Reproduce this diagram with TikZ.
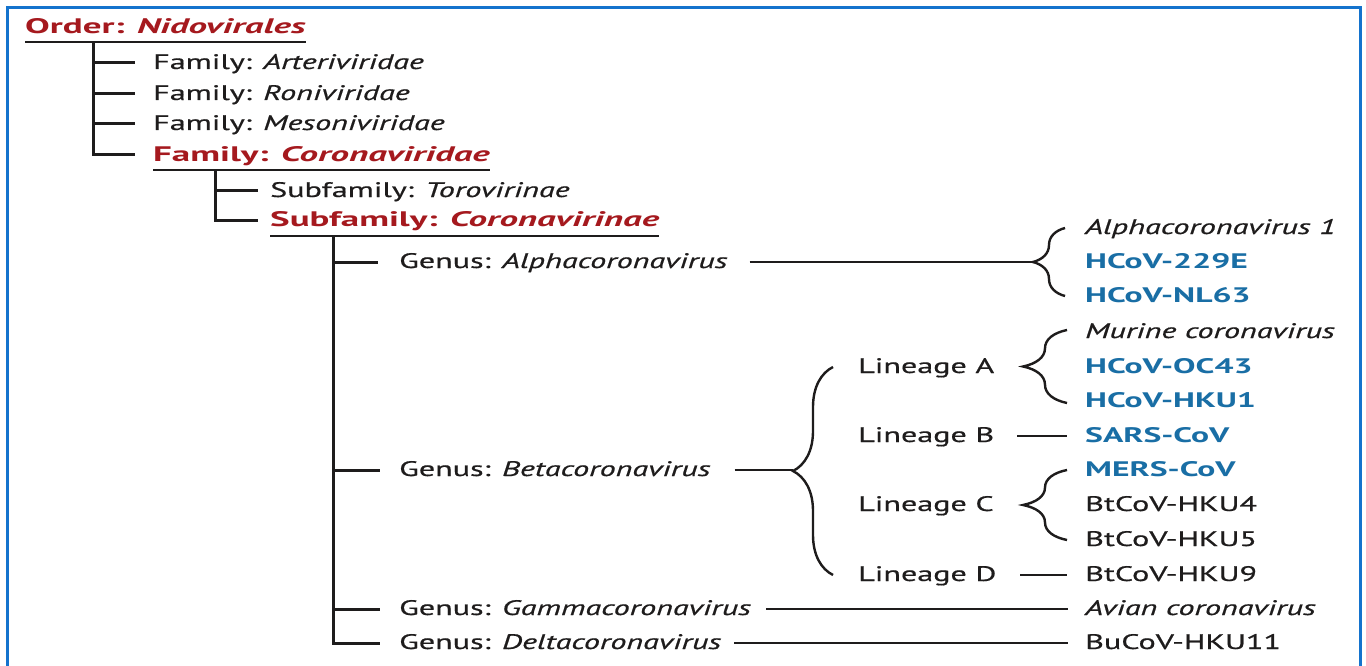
\documentclass[tikz,border=0pt]{standalone}
\usepackage{fontspec}
\setmainfont{PT Sans}
\newfontfamily\regf{PT Sans}[FakeStretch=1.53, FakeBold=0.6]
\newfontfamily\redf{PT Sans}[FakeStretch=1.76]
\newfontfamily\bluef{PT Sans}[FakeStretch=1.6]
\usetikzlibrary{decorations.pathreplacing}
\definecolor{ordred}{RGB}{165,25,30}
\definecolor{virblue}{RGB}{25,110,165}
\definecolor{framebl}{RGB}{20,115,205}
\definecolor{ink}{RGB}{30,28,28}
\begin{document}
\begin{tikzpicture}[x=1pt,y=-1pt,
  lbl/.style={anchor=west, inner sep=0pt, text=ink, font=\fontsize{21}{25}\selectfont\regf, text height=15pt, text depth=3pt},
  hl/.style={lbl, text=ordred, font=\fontsize{21}{25}\selectfont\redf\bfseries},
  vb/.style={lbl, text=virblue, font=\fontsize{21}{25}\selectfont\bluef\bfseries},
  tree/.style={draw=ink, line width=3pt},
  ul/.style={draw=ink, line width=2.6pt},
  thin/.style={draw=ink, line width=2.4pt},
  brc/.style={draw=ink, line width=2.4pt, decorate, decoration={brace, amplitude=#1}}]
\useasboundingbox (0,0) rectangle (1366,666);
\fill[white] (0,0) rectangle (1366,666);
\draw[framebl, line width=3pt] (7,690) -- (7,8) -- (1360,8) -- (1360,690);

% Order
\node[hl] (ord) at (25,28) {Order: \textit{Nidovirales}};
\draw[ul] (ord.west |- 0,42) -- (ord.east |- 0,42);
\coordinate (o1) at (93,42);

% Families
\node[lbl] (f1) at (153,63) {Family: \textit{Arteriviridae}};
\node[lbl] (f2) at (153,94) {Family: \textit{Roniviridae}};
\node[lbl] (f3) at (153,124) {Family: \textit{Mesoniviridae}};
\node[hl] (f4) at (153,155) {Family: \textit{Coronaviridae}};
\draw[ul] (f4.west |- 0,170) -- (f4.east |- 0,170);
\draw[tree] (o1) |- ([xshift=-18pt]f4.west);
\draw[tree] (o1 |- f1) -- ([xshift=-18pt]f1.west);
\draw[tree] (o1 |- f2) -- ([xshift=-18pt]f2.west);
\draw[tree] (o1 |- f3) -- ([xshift=-18pt]f3.west);

% Subfamilies
\coordinate (o2) at (215,170);
\node[lbl] (s1) at (270,191) {Subfamily: \textit{Torovirinae}};
\node[hl] (s2) at (270,220) {Subfamily: \textit{Coronavirinae}};
\draw[ul] (s2.west |- 0,236) -- (s2.east |- 0,236);
\draw[tree] (o2) |- ([xshift=-12pt]s2.west);
\draw[tree] (o2 |- s1) -- ([xshift=-12pt]s1.west);

% Genera
\coordinate (o3) at (333,236);
\node[lbl] (ga) at (399,262) {Genus: \textit{Alphacoronavirus}};
\node[lbl] (gb) at (399,470) {Genus: \textit{Betacoronavirus}};
\node[lbl] (gg) at (399,609) {Genus: \textit{Gammacoronavirus}};
\node[lbl] (gd) at (399,643) {Genus: \textit{Deltacoronavirus}};
\draw[tree] (o3) |- ([xshift=-19pt]gd.west);
\draw[tree] (o3 |- ga) -- ([xshift=-21pt]ga.west);
\draw[tree] (o3 |- gb) -- ([xshift=-19pt]gb.west);
\draw[tree] (o3 |- gg) -- ([xshift=-19pt]gg.west);

% Species column
\node[lbl] (r1) at (1085,228) {\textit{Alphacoronavirus 1}};
\node[vb] (r2) at (1085,262) {HCoV-229E};
\node[vb] (r3) at (1085,296) {HCoV-NL63};
\node[lbl] (r4) at (1085,332) {\textit{Murine coronavirus}};
\node[vb] (r5) at (1085,367) {HCoV-OC43};
\node[vb] (r6) at (1085,401) {HCoV-HKU1};
\node[vb] (r7) at (1085,436) {SARS-CoV};
\node[vb] (r8) at (1085,470) {MERS-CoV};
\node[lbl] (r9) at (1085,505) {BtCoV-HKU4};
\node[lbl] (r10) at (1085,540) {BtCoV-HKU5};
\node[lbl] (r11) at (1085,575) {BtCoV-HKU9};
\node[lbl] (r12) at (1085,609) {\textit{Avian coronavirus}};
\node[lbl] (r13) at (1085,643) {BuCoV-HKU11};

% Lineages
\node[lbl] (la) at (858,367) {Lineage A};
\node[lbl] (lb) at (858,436) {Lineage B};
\node[lbl] (lc) at (858,505) {Lineage C};
\node[lbl] (ld) at (858,575) {Lineage D};

% Alpha brace and line
\draw[brc=32] ([xshift=-20pt]r3.west) -- ([xshift=-20pt]r1.west);
\coordinate (atip) at ([xshift=-52pt]r2.west);
\draw[thin] ([xshift=22pt]ga.east) -- (atip);

% Beta big brace
\draw[brc=40] ([xshift=-25pt]ld.west) -- ([xshift=-25pt]la.west);
\coordinate (btip) at (793,471);
\draw[thin] ([xshift=24pt]gb.east) -- (gb.east -| btip);

% Lineage A brace
\draw[brc=44] ([xshift=-18pt,yshift=-2pt]r6.west) -- ([xshift=-18pt,yshift=2pt]r4.west);
% Lineage B line
\draw[thin] ([xshift=-68pt]r7.west) -- ([xshift=-18pt]r7.west);
% Lineage C brace
\draw[brc=44] ([xshift=-18pt]r10.west) -- ([xshift=-18pt]r8.west);
% Lineage D line
\draw[thin] ([xshift=-65pt]r11.west) -- ([xshift=-18pt]r11.west);

% Gamma and Delta lines
\draw[thin] ([xshift=15pt]gg.east) -- ([xshift=-17pt]r12.west);
\draw[thin] ([xshift=13pt]gd.east) -- ([xshift=-17pt]r13.west);
\end{tikzpicture}
\end{document}
